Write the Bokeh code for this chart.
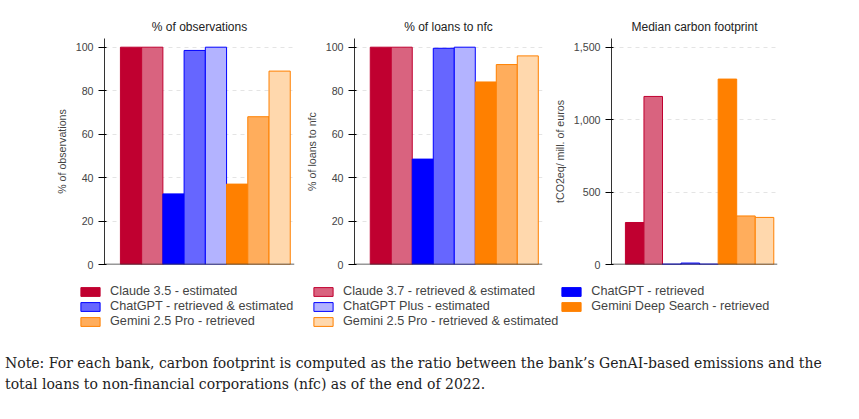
from bokeh.plotting import figure
from bokeh.layouts import column, row
from bokeh.models import Range1d, Legend, LegendItem, Div, Spacer, NumeralTickFormatter, ColumnDataSource
from bokeh.embed import file_html
from bokeh.resources import INLINE

series = ["Claude 3.5 - estimated", "Claude 3.7 - retrieved & estimated", "ChatGPT - retrieved",
          "ChatGPT - retrieved & estimated", "ChatGPT Plus - estimated", "Gemini Deep Search - retrieved",
          "Gemini 2.5 Pro - retrieved", "Gemini 2.5 Pro - retrieved & estimated"]
fills = ["#c00030", "#d9637f", "#0000ff", "#6666ff", "#b3b3ff", "#ff8000", "#ffad5c", "#ffd8ad"]
lines = ["#c00030", "#c00030", "#0000ff", "#0000ff", "#0000ff", "#ff8000", "#ff8000", "#ff8000"]

obs_pct = [100, 100, 32.5, 98.5, 100, 37, 68, 89]
loans_pct = [100, 100, 48.5, 99.5, 100, 84, 92, 96]
carbon = [290, 1160, 3, 10, 3, 1280, 335, 325]

FONT = "Liberation Sans"

def panel(title, ylabel, vals, ymax, ticks, width, fmt=None):
    p = figure(width=width, height=270, output_backend="svg", toolbar_location=None,
               x_range=Range1d(-0.75, 8.2), y_range=Range1d(0, ymax), title=title,
               min_border_left=10, min_border_right=8, min_border_top=8, min_border_bottom=18)
    xs = list(range(len(vals)))
    src = ColumnDataSource(dict(x=[i + 0.5 for i in xs], top=vals, fill=fills, line=lines))
    p.vbar(x="x", top="top", width=1.0, bottom=0, fill_color="fill", line_color="line", line_width=1, source=src)
    p.title.align = "center"
    p.title.text_font = FONT
    p.title.text_font_size = "9pt"
    p.title.text_font_style = "normal"
    p.title.text_color = "#222222"
    p.xaxis.visible = False
    p.xgrid.visible = False
    p.ygrid.grid_line_dash = "4 4"
    p.ygrid.grid_line_color = "#e4e4e4"
    p.yaxis.ticker = ticks
    p.yaxis.axis_label = ylabel
    p.yaxis.axis_label_text_font = FONT
    p.yaxis.axis_label_text_font_size = "8pt"
    p.yaxis.axis_label_text_font_style = "normal"
    p.yaxis.major_label_text_font = FONT
    p.yaxis.major_label_text_font_size = "8pt"
    p.yaxis.minor_tick_line_color = None
    p.yaxis.major_label_orientation = "horizontal"
    p.yaxis.axis_line_color = "#333333"
    if fmt:
        p.yaxis.formatter = NumeralTickFormatter(format=fmt)
    p.outline_line_color = None
    p.segment(x0=-0.75, x1=8.2, y0=0, y1=0, line_color="#333333", line_width=1.5)
    return p

f1 = panel("% of observations", "% of observations", obs_pct, 104, [0, 20, 40, 60, 80, 100], 250)
f2 = panel("% of loans to nfc", "% of loans to nfc", loans_pct, 104, [0, 20, 40, 60, 80, 100], 248)
f3 = panel("Median carbon footprint", "tCO2eq/ mill. of euros", carbon, 1560, [0, 500, 1000, 1500], 235, fmt="0,0")

lg = figure(width=760, height=62, output_backend="svg", toolbar_location=None,
            x_range=Range1d(0, 1), y_range=Range1d(0, 1), min_border=0)
lg.axis.visible = False
lg.grid.visible = False
lg.outline_line_color = None
rend = []
for s, fc, lc in zip(series, fills, lines):
    r = lg.vbar(x=[5], top=[5], bottom=[4], width=0.1, fill_color=fc, line_color=lc)
    rend.append(LegendItem(label=s, renderers=[r]))
# column-major fill of a 3-column legend, so rows read left to right in series order
col_order = [0, 3, 6, 1, 4, 7, 2, 5]
items = [rend[i] for i in col_order]
leg = Legend(items=items, ncols=3, location="top_left", border_line_color=None,
             label_text_font=FONT, label_text_font_size="9.5pt", label_width=200,
             glyph_width=24, glyph_height=11, spacing=1, padding=2, margin=0,
             label_height=14, label_standoff=8)
lg.add_layout(leg, "center")

note = Div(text="Note: For each bank, carbon footprint is computed as the ratio between the bank’s GenAI-based emissions and the total loans to non-financial corporations (nfc) as of the end of 2022.",
           width=830, styles={"font-family": "DejaVu Serif", "font-size": "14px", "line-height": "21px", "color": "#222"})

layout = column(Spacer(height=10), row(Spacer(width=52), f1, f2, f3), row(Spacer(width=78), lg), note, spacing=2)
open("out.html", "w").write(file_html(layout, INLINE))
